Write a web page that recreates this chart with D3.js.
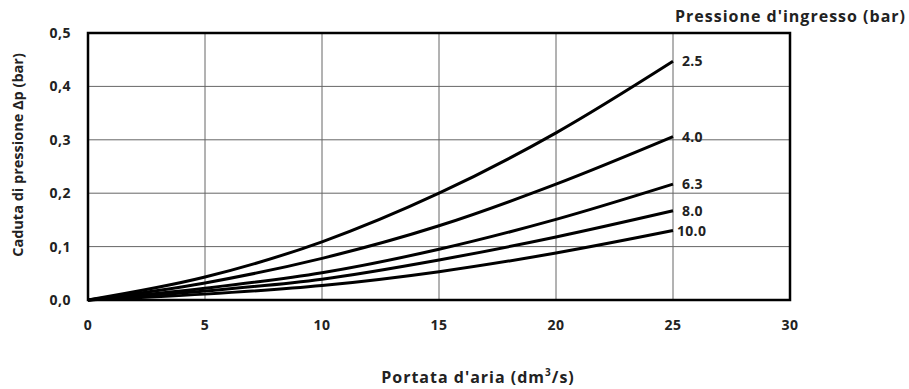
<!DOCTYPE html>
<html lang="it">
<head>
    <meta charset="utf-8">
    <title>Caduta di pressione</title>
    <script src="https://d3js.org/d3.v7.min.js"></script>
    <style>
        body {
            margin: 0;
            background: #fff;
            font-family: "Open Sans", Lato, sans-serif;
        }
        .grid line {
            stroke: #666;
            stroke-width: 1px;
        }
        .tick-label {
            font-size: 14px;
            font-weight: 700;
            fill: #222;
            letter-spacing: 0.5px;
        }
        .curve {
            fill: none;
            stroke: #000;
            stroke-width: 3px;
        }
        .curve-label {
            font-size: 14px;
            font-weight: 700;
            fill: #222;
            letter-spacing: 0.3px;
        }
        .axis-title {
            font-size: 14.5px;
            font-weight: 700;
            fill: #222;
        }
        .wide {
            font-size: 16px;
            letter-spacing: 1px;
        }
    </style>
</head>
<body>
    <svg id="chart" width="909" height="389"></svg>

    <script>
        // data
        const flow = [0, 5, 10, 15, 20, 25];          // dm3/s
        const inletPressures = ["2.5", "4.0", "6.3", "8.0", "10.0"];
        const drop_2_5  = [0, 0.043, 0.109, 0.200, 0.313, 0.447];
        const drop_4_0  = [0, 0.032, 0.078, 0.139, 0.217, 0.306];
        const drop_6_3  = [0, 0.022, 0.051, 0.095, 0.151, 0.217];
        const drop_8_0  = [0, 0.017, 0.039, 0.075, 0.118, 0.167];
        const drop_10_0 = [0, 0.011, 0.027, 0.053, 0.088, 0.130];
        const xTicks = [0, 5, 10, 15, 20, 25, 30];
        const yTicks = [0, 0.1, 0.2, 0.3, 0.4, 0.5];

        const seriesDrops = [drop_2_5, drop_4_0, drop_6_3, drop_8_0, drop_10_0];
        const series = inletPressures.map((p, i) => ({
            name: p,
            values: flow.map((f, j) => ({ x: f, y: seriesDrops[i][j] }))
        }));

        const margin = { top: 33, right: 119, bottom: 89, left: 88 };
        const width = 909, height = 389;

        const svg = d3.select("#chart");

        const x = d3.scaleLinear()
            .domain([0, 30])
            .range([margin.left, width - margin.right]);

        const y = d3.scaleLinear()
            .domain([0, 0.5])
            .range([height - margin.bottom, margin.top]);

        // grid
        const grid = svg.append("g").attr("class", "grid");
        grid.selectAll("line.v")
            .data(xTicks.slice(1, -1))
            .enter().append("line")
            .attr("class", "v")
            .attr("x1", d => x(d)).attr("x2", d => x(d))
            .attr("y1", y(0)).attr("y2", y(0.5));
        grid.selectAll("line.h")
            .data(yTicks.slice(1, -1))
            .enter().append("line")
            .attr("class", "h")
            .attr("x1", x(0)).attr("x2", x(30))
            .attr("y1", d => y(d)).attr("y2", d => y(d));

        // tick labels
        const fmtComma = d3.format(".1f");
        svg.append("g").selectAll("text")
            .data(yTicks)
            .enter().append("text")
            .attr("class", "tick-label")
            .attr("x", x(0) - 17)
            .attr("y", d => y(d) + 5)
            .attr("text-anchor", "end")
            .text(d => fmtComma(d).replace(".", ","));

        svg.append("g").selectAll("text")
            .data(xTicks)
            .enter().append("text")
            .attr("class", "tick-label")
            .attr("x", d => x(d))
            .attr("y", y(0) + 30)
            .attr("text-anchor", "middle")
            .text(d => d);

        // curves
        const line = d3.line()
            .x(d => x(d.x))
            .y(d => y(d.y))
            .curve(d3.curveMonotoneX);

        svg.append("g").selectAll("path")
            .data(series)
            .enter().append("path")
            .attr("class", "curve")
            .attr("d", d => line(d.values));

        // curve labels at the end of each line
        svg.append("g").selectAll("text")
            .data(series)
            .enter().append("text")
            .attr("class", "curve-label")
            .attr("x", d => x(25) + (d.name.length > 3 ? 4 : 9))
            .attr("y", d => y(d.values[d.values.length - 1].y) + 5)
            .text(d => d.name);

        // frame
        svg.append("rect")
            .attr("x", x(0))
            .attr("y", y(0.5))
            .attr("width", x(30) - x(0))
            .attr("height", y(0) - y(0.5))
            .attr("fill", "none")
            .attr("stroke", "#000")
            .attr("stroke-width", 2.5);

        // titles
        svg.append("text")
            .attr("class", "axis-title wide")
            .attr("x", 906)
            .attr("y", 22)
            .attr("text-anchor", "end")
            .text("Pressione d'ingresso (bar)");

        const xTitle = svg.append("text")
            .attr("class", "axis-title wide")
            .attr("x", 478)
            .attr("y", 383)
            .attr("text-anchor", "middle");
        xTitle.append("tspan").text("Portata d'aria (dm");
        xTitle.append("tspan").attr("dy", -7).style("font-size", "10px").text("3");
        xTitle.append("tspan").attr("dy", 7).text("/s)");

        svg.append("text")
            .attr("class", "axis-title")
            .attr("transform", `translate(23, 155) rotate(-90)`)
            .attr("text-anchor", "middle")
            .text("Caduta di pressione Δp (bar)");
    </script>
</body>
</html>
